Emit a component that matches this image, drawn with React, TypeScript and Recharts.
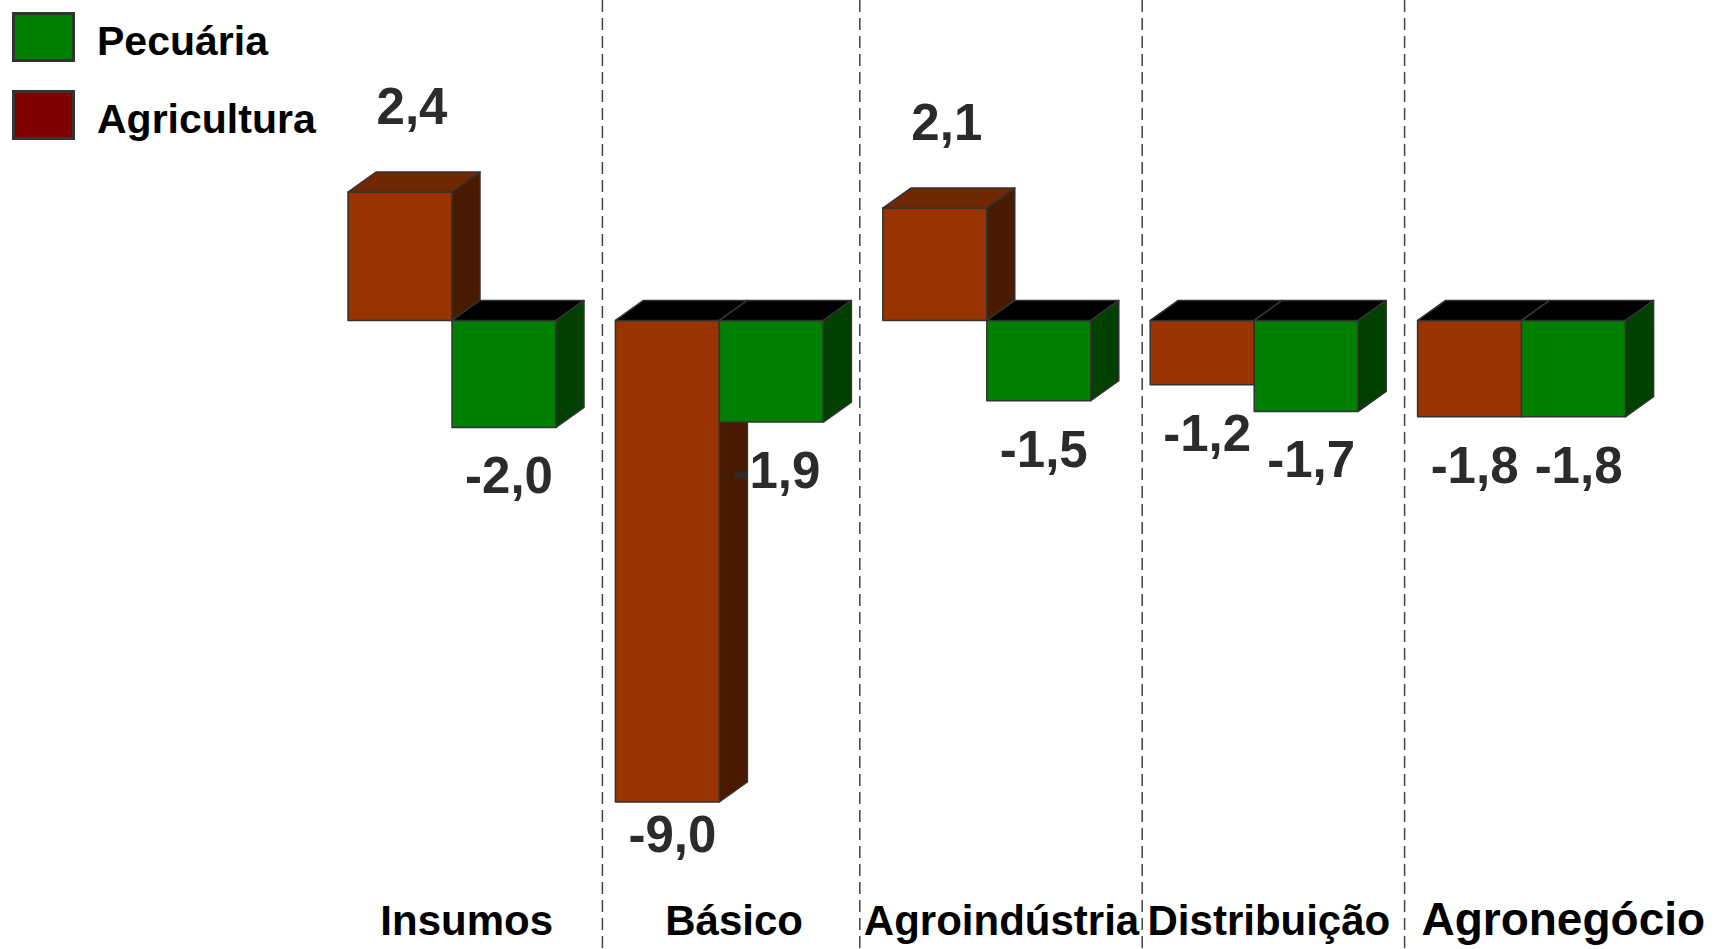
import React from 'react';
import { BarChart, Bar, XAxis, YAxis, LabelList } from 'recharts';

const CATEGORIES = ['Insumos', 'Básico', 'Agroindústria', 'Distribuição', 'Agronegócio'];
const AGRICULTURA = [2.4, -9.0, 2.1, -1.2, -1.8];
const PECUARIA = [-2.0, -1.9, -1.5, -1.7, -1.8];

const W = 1715;
const H = 949;
const PLOT_H = 610;
const MARGIN = { top: 192, right: 60, left: 318, bottom: 0 };
const BAND = (W - MARGIN.left - MARGIN.right) / CATEGORIES.length;
const DX = 28;
const DY = 20;
const FONT = '"Liberation Sans", Arial, sans-serif';
// shift of each dashed separator from the band edge
const SEP_SHIFT = [0, 17, 7, 22, 17];

const data = CATEGORIES.map((name, i) => ({
  name,
  agricultura: AGRICULTURA[i],
  pecuaria: PECUARIA[i],
}));

const fmt = (v: number) => v.toFixed(1).replace('.', ',');

// 3D block: front face, top face and right side face
const makeShape = (front: string, side: string, topPos: string) => (props: any) => {
  const { x, y, width, height, value } = props;
  const top = Math.min(y, y + height);
  const bottom = Math.max(y, y + height);
  const right = x + width;
  const topFill = value >= 0 ? topPos : '#000000';
  const st = { stroke: '#333333', strokeWidth: 1.5, strokeLinejoin: 'round' as const };
  return (
    <g>
      <rect x={x} y={top} width={width} height={bottom - top} fill={front} {...st} />
      <polygon
        points={`${x},${top} ${x + DX},${top - DY} ${right + DX},${top - DY} ${right},${top}`}
        fill={topFill}
        {...st}
      />
      <polygon
        points={`${right},${top} ${right + DX},${top - DY} ${right + DX},${bottom - DY} ${right},${bottom}`}
        fill={side}
        {...st}
      />
    </g>
  );
};

const valueLabel = (props: any) => {
  const { x, y, width, height, value } = props;
  const top = Math.min(y, y + height);
  const bottom = Math.max(y, y + height);
  const v = Number(value);
  const cx = x + width / 2 + (v >= 0 ? 12 : 5);
  const ty = v >= 0 ? top - 68 : Math.min(bottom + 66, 852);
  return (
    <text
      x={cx}
      y={ty}
      textAnchor="middle"
      fontFamily={FONT}
      fontWeight="bold"
      fontSize={51}
      fill="#2b2b2b"
    >
      {fmt(v)}
    </text>
  );
};

const CategoryTick = (props: any) => {
  const { x, payload, index } = props;
  const last = index === CATEGORIES.length - 1;
  const sepX = x - BAND / 2 + SEP_SHIFT[index];
  return (
    <g>
      {index > 0 && (
        <line x1={sepX} y1={0} x2={sepX} y2={H} stroke="#444444" strokeWidth={1.5} strokeDasharray="12 6" />
      )}
      <text
        x={x + (last ? 42 : 15)}
        y={935}
        textAnchor="middle"
        fontFamily={FONT}
        fontWeight="bold"
        fontSize={last ? 46 : 42}
        fill="#000000"
      >
        {payload.value}
      </text>
    </g>
  );
};

const LEGEND = [
  { label: 'Pecuária', color: '#008000' },
  { label: 'Agricultura', color: '#800000' },
];

const App: React.FC = () => {
  return (
    <div style={{ position: 'absolute', left: 0, top: 0, width: W, height: H, background: '#ffffff' }}>
      <BarChart width={W} height={H} data={data} margin={MARGIN} barGap={0} barSize={104}>
        <XAxis
          dataKey="name"
          height={H - MARGIN.top - PLOT_H}
          axisLine={false}
          tickLine={false}
          interval={0}
          tick={<CategoryTick />}
        />
        <YAxis hide domain={[-9, 2.4]} />
        <Bar dataKey="agricultura" fill="#993300" shape={makeShape('#993300', '#4a1a00', '#6f2800')} isAnimationActive={false}>
          <LabelList dataKey="agricultura" content={valueLabel} />
        </Bar>
        <Bar dataKey="pecuaria" fill="#008000" shape={makeShape('#008000', '#004000', '#005500')} isAnimationActive={false}>
          <LabelList dataKey="pecuaria" content={valueLabel} />
        </Bar>
      </BarChart>
      <svg style={{ position: 'absolute', left: 0, top: 0 }} width={330} height={150}>
        {LEGEND.map((item, i) => (
          <g key={item.label}>
            <rect x={13.5} y={13.5 + i * 78} width={60} height={47} fill={item.color} stroke="#333333" strokeWidth={3} />
            <text x={97} y={55 + i * 78} fontFamily={FONT} fontWeight="bold" fontSize={41} fill="#000000">
              {item.label}
            </text>
          </g>
        ))}
      </svg>
    </div>
  );
};

export default App;
